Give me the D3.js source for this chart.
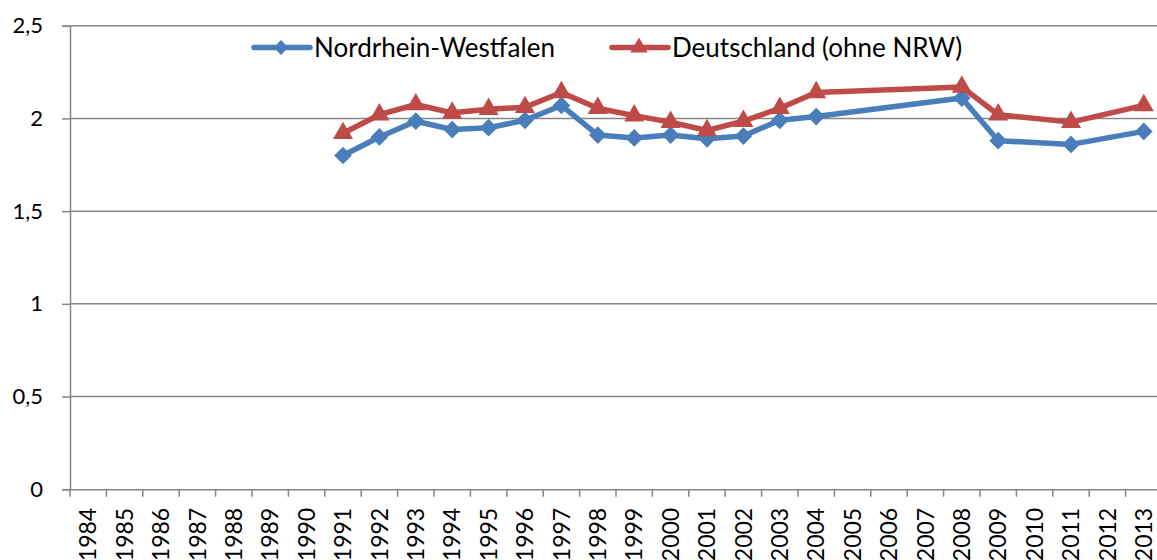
<!DOCTYPE html>
<html><head><meta charset="utf-8">
<script src="https://cdn.jsdelivr.net/npm/d3@7"></script>
<style>html,body{margin:0;padding:0;background:#fff;overflow:hidden}</style>
</head><body>
<svg id="c" width="1157" height="560"></svg>
<script>
const years = ["1984","1985","1986","1987","1988","1989","1990","1991","1992","1993","1994","1995","1996","1997","1998","1999","2000","2001","2002","2003","2004","2005","2006","2007","2008","2009","2010","2011","2012","2013"];
const dataYears = ["1991","1992","1993","1994","1995","1996","1997","1998","1999","2000","2001","2002","2003","2004","2008","2009","2011","2013"];
const nrw = [1.80,1.90,1.985,1.94,1.95,1.99,2.07,1.91,1.895,1.91,1.89,1.905,1.99,2.01,2.11,1.88,1.86,1.93];
const deu = [1.92,2.02,2.075,2.03,2.05,2.06,2.14,2.055,2.015,1.98,1.935,1.985,2.055,2.14,2.17,2.02,1.98,2.07];
const yTicks = [0,0.5,1,1.5,2,2.5];
const seriesNames = ["Nordrhein-Westfalen","Deutschland (ohne NRW)"];
const colors = ["#4A7EBB","#BE4B48"];

const svg = d3.select("#c");
const L=70, R=1162, T=25.7, B=489.3;
const FONT = "Lato, 'Open Sans', sans-serif";
const x = d3.scaleBand().domain(years).range([L,R]).padding(0);
const y = d3.scaleLinear().domain([0,2.5]).range([B,T]);
const fmt = v => String(v).replace(".",",");

// gridlines
svg.append("g").selectAll("line").data(yTicks.filter(d=>d>0)).join("line")
  .attr("x1",L).attr("x2",R).attr("y1",d=>y(d)).attr("y2",d=>y(d))
  .attr("stroke","#868686").attr("stroke-width",1.5);

// y axis
const ya = svg.append("g").attr("transform",`translate(${L},0)`)
  .call(d3.axisLeft(y).tickValues(yTicks).tickFormat(fmt).tickSize(8).tickPadding(19));
ya.select(".domain").attr("stroke","#868686").attr("stroke-width",1.5);
ya.selectAll(".tick line").attr("stroke","#868686").attr("stroke-width",1.5);
ya.selectAll("text").attr("font-family",FONT).attr("font-size",22).attr("fill","#000");

// x axis
const xa = svg.append("g").attr("transform",`translate(0,${B})`)
  .call(d3.axisBottom(x).tickValues(years).tickSize(0).tickSizeOuter(0));
xa.select(".domain").attr("stroke","#868686").attr("stroke-width",1.5);
xa.selectAll(".tick text").attr("font-family",FONT).attr("font-size",23).attr("fill","#000")
  .attr("transform","rotate(-90)").attr("text-anchor","end").attr("x",-18.5).attr("y",0).attr("dy","0.36em");
// category boundary ticks
svg.append("g").selectAll("line").data(years).join("line")
  .attr("x1",d=>x(d)).attr("x2",d=>x(d)).attr("y1",B).attr("y2",B+7.5)
  .attr("stroke","#868686").attr("stroke-width",1.5);

const cx = d => x(d)+x.bandwidth()/2;
const diamond = d3.symbol().type(d3.symbolDiamond2).size(200);
const tri = d3.symbol().type(d3.symbolTriangle).size(175);
const diamondL = d3.symbol().type(d3.symbolDiamond2).size(140);
const triL = d3.symbol().type(d3.symbolTriangle).size(130);

function drawSeries(vals,color,sym){
  const pts = dataYears.map((yr,i)=>({yr,v:vals[i]}));
  svg.append("path").datum(pts)
    .attr("d",d3.line().x(d=>cx(d.yr)).y(d=>y(d.v)))
    .attr("fill","none").attr("stroke",color).attr("stroke-width",5.5).attr("stroke-linejoin","round").attr("stroke-linecap","round");
  svg.append("g").selectAll("path").data(pts).join("path")
    .attr("d",sym).attr("transform",d=>`translate(${cx(d.yr)},${y(d.v)})`).attr("fill",color);
}
drawSeries(nrw,colors[0],diamond);
drawSeries(deu,colors[1],tri);

// legend
const legend = [{x:254,sym:diamondL},{x:612,sym:triL}];
legend.forEach((l,i)=>{
  const g = svg.append("g").attr("transform",`translate(${l.x},47.5)`);
  g.append("line").attr("x1",0).attr("x2",56).attr("stroke",colors[i]).attr("stroke-width",5.5).attr("stroke-linecap","round");
  g.append("path").attr("d",l.sym).attr("transform","translate(27,0)").attr("fill",colors[i]);
  g.append("text").attr("x",60).attr("dy","0.35em").attr("font-family",FONT).attr("font-size",26).attr("fill","#000").text(seriesNames[i]);
});
</script>
</body></html>
